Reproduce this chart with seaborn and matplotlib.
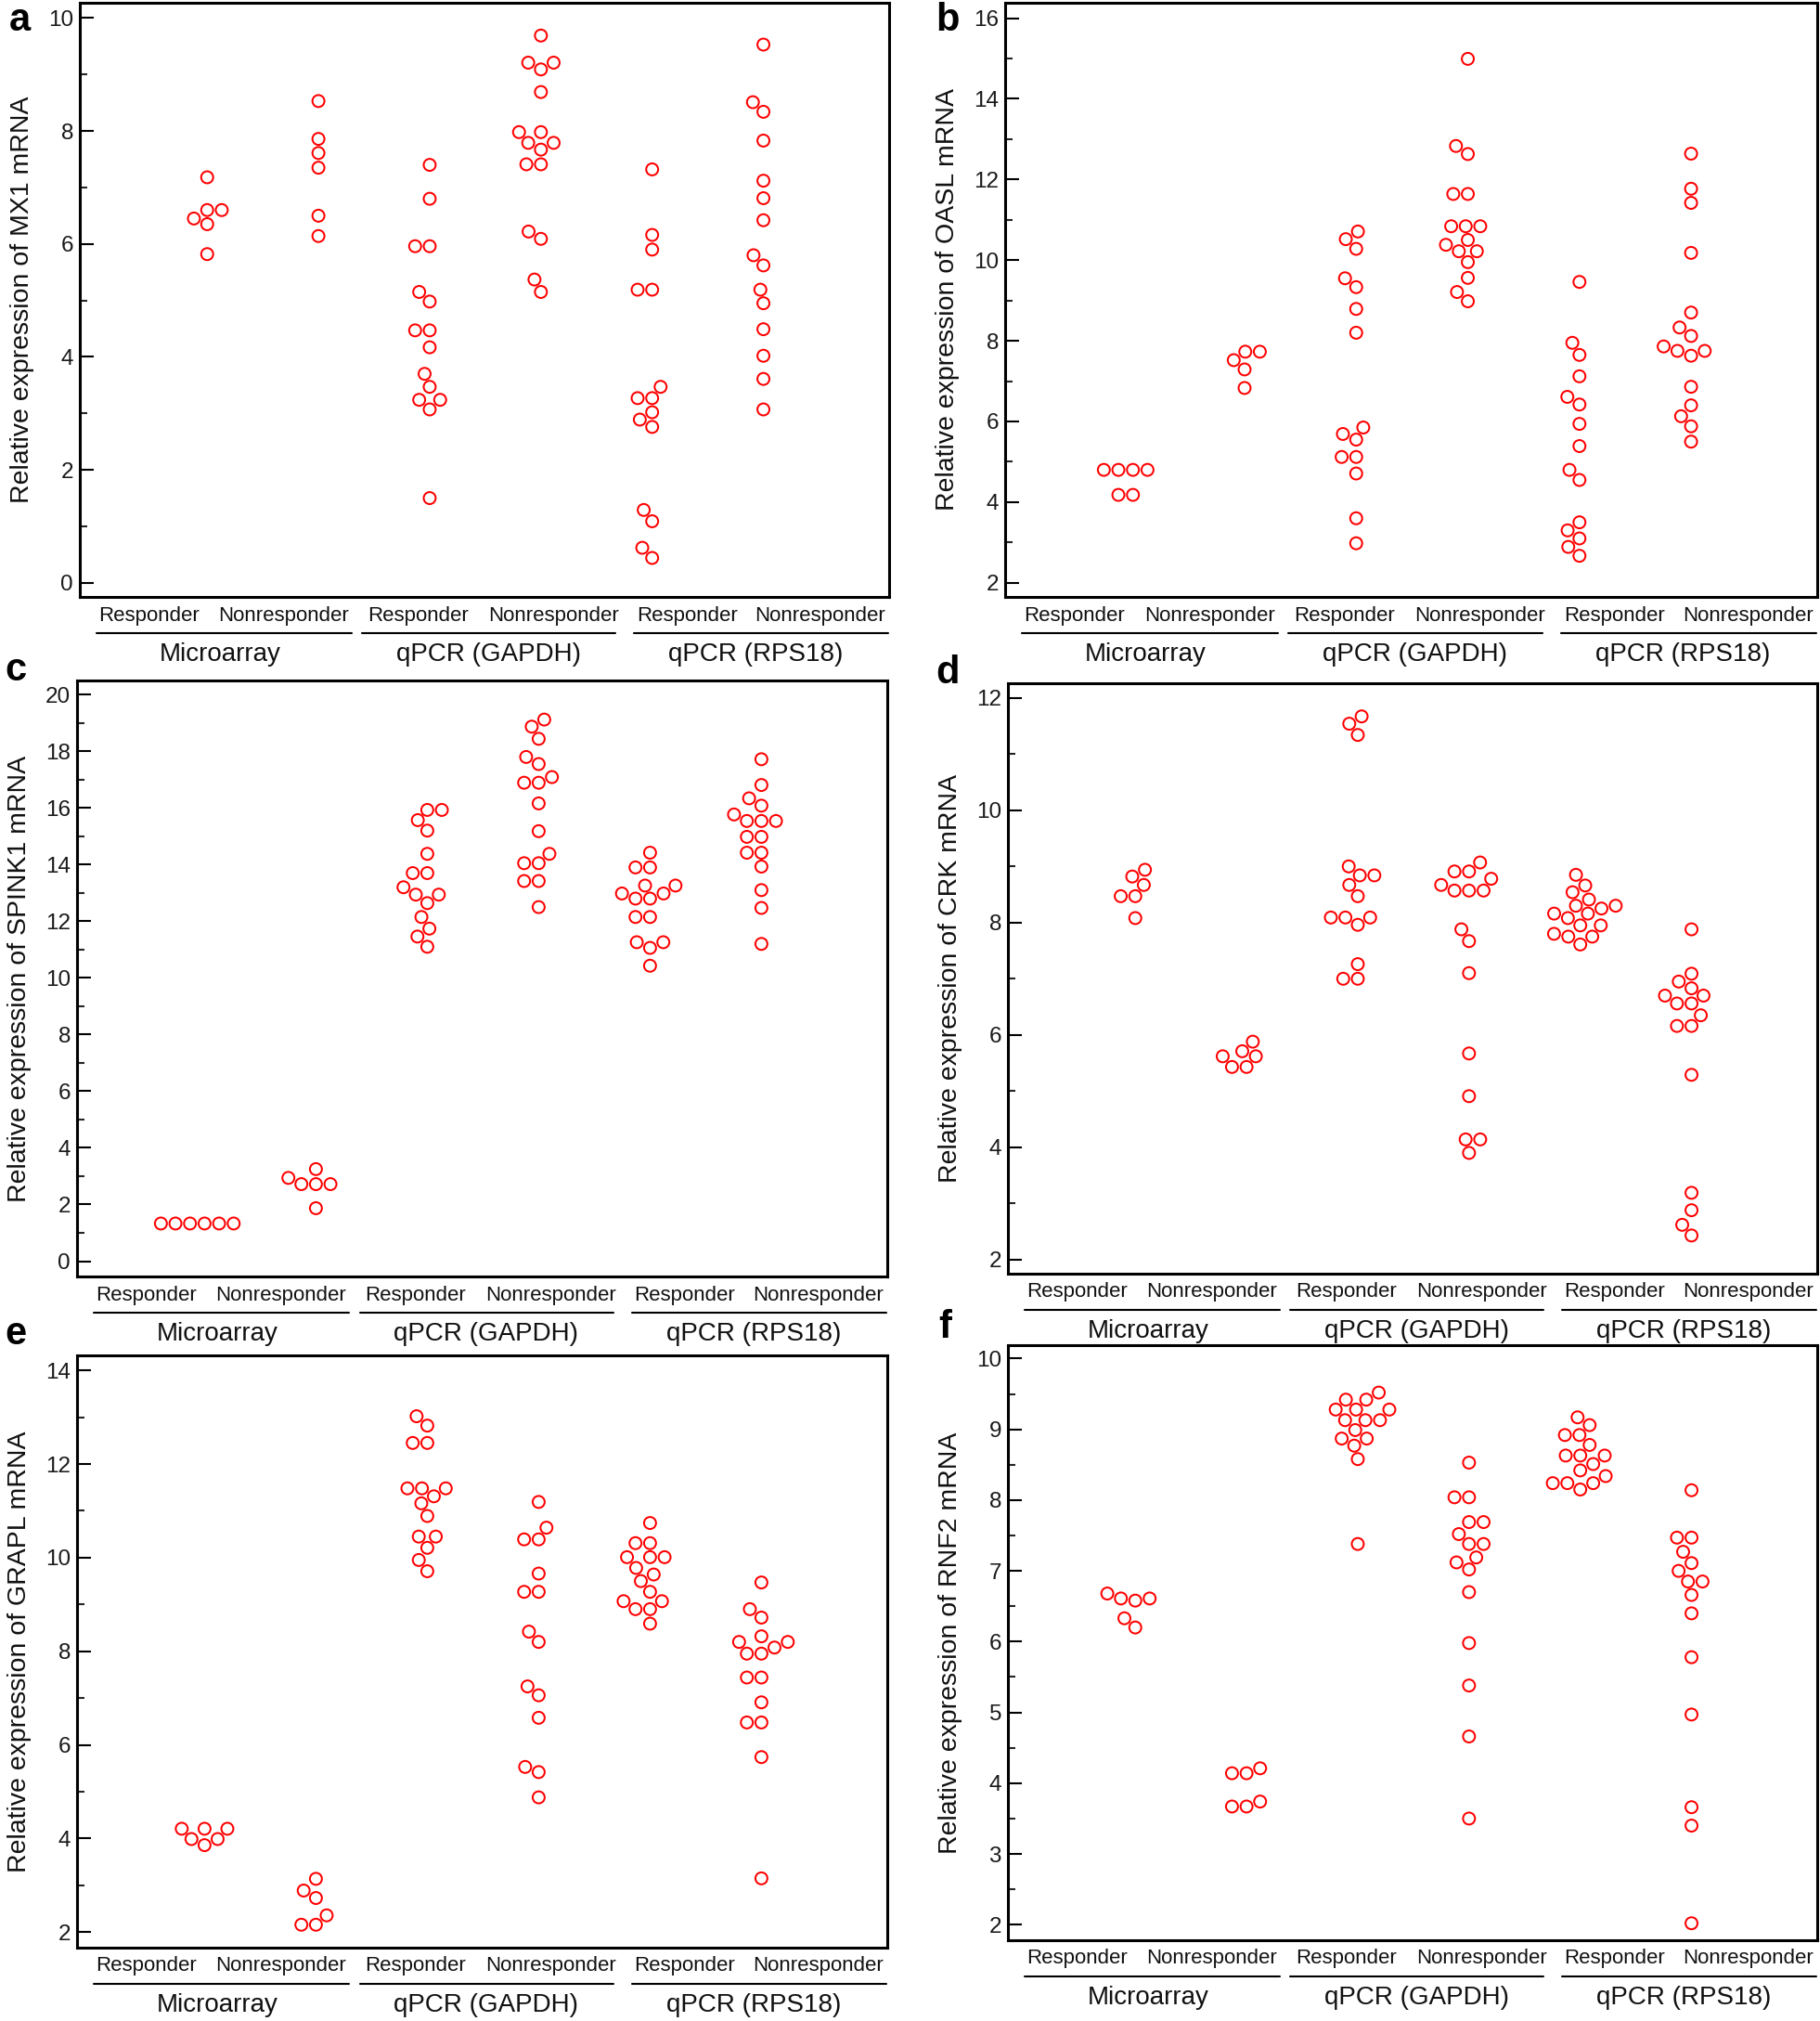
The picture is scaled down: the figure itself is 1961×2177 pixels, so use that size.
import numpy as np
import pandas as pd
import matplotlib
matplotlib.use("Agg")
import matplotlib.pyplot as plt
from matplotlib.lines import Line2D
from matplotlib.ticker import MultipleLocator
from matplotlib.transforms import ScaledTranslation
import seaborn as sns

# ---------------- data ----------------
group_keys = ["Micro_R", "Micro_N", "GAPDH_R", "GAPDH_N", "RPS18_R", "RPS18_N"]
cat_labels = ["Responder", "Nonresponder"] * 3
group_labels = ["Microarray", "qPCR (GAPDH)", "qPCR (RPS18)"]

mx1_micro_r = [7.18, 6.6, 6.6, 6.45, 6.35, 5.82]
mx1_micro_n = [8.53, 7.86, 7.61, 7.35, 6.5, 6.14]
mx1_gapdh_r = [7.4, 6.8, 5.96, 5.96, 5.15, 4.98, 4.47, 4.47, 4.17, 3.7, 3.47, 3.24, 3.24, 3.07, 1.5]
mx1_gapdh_n = [9.69, 9.21, 9.21, 9.09, 8.69, 7.98, 7.98, 7.79, 7.79, 7.67, 7.41, 7.41, 6.22, 6.09, 5.37, 5.15]
mx1_rps18_r = [7.32, 6.16, 5.9, 5.19, 5.19, 3.47, 3.27, 3.27, 3.02, 2.89, 2.76, 1.29, 1.09, 0.62, 0.44]
mx1_rps18_n = [9.53, 8.51, 8.34, 7.83, 7.12, 6.81, 6.42, 5.8, 5.62, 5.19, 4.95, 4.49, 4.02, 3.61, 3.07]

oasl_micro_r = [4.8, 4.8, 4.8, 4.8, 4.18, 4.18]
oasl_micro_n = [7.73, 7.73, 7.52, 7.29, 6.83]
oasl_gapdh_r = [10.71, 10.52, 10.28, 9.55, 9.33, 8.79, 8.2, 5.85, 5.69, 5.55, 5.12, 5.12, 4.71, 3.6, 2.98]
oasl_gapdh_n = [14.99, 12.83, 12.63, 11.64, 11.64, 10.84, 10.84, 10.84, 10.5, 10.38, 10.22, 10.22, 9.95, 9.56, 9.21, 8.98]
oasl_rps18_r = [9.46, 7.95, 7.65, 7.12, 6.61, 6.42, 5.94, 5.39, 4.8, 4.55, 3.5, 3.3, 3.1, 2.89, 2.67]
oasl_rps18_n = [12.64, 11.77, 11.42, 10.18, 8.7, 8.33, 8.12, 7.86, 7.75, 7.75, 7.63, 6.86, 6.4, 6.13, 5.88, 5.5]

spink1_micro_r = [1.33, 1.33, 1.33, 1.33, 1.33, 1.33]
spink1_micro_n = [3.25, 2.94, 2.72, 2.72, 2.72, 1.87]
spink1_gapdh_r = [15.93, 15.93, 15.57, 15.2, 14.38, 13.7, 13.7, 13.2, 12.94, 12.94, 12.64, 12.15, 11.74, 11.46, 11.1]
spink1_gapdh_n = [19.12, 18.87, 18.44, 17.8, 17.55, 17.09, 16.89, 16.89, 16.16, 15.18, 14.38, 14.05, 14.05, 13.42, 13.42, 12.5]
spink1_rps18_r = [14.42, 13.9, 13.9, 13.26, 13.26, 12.98, 12.98, 12.8, 12.8, 12.15, 12.15, 11.26, 11.26, 11.06, 10.43]
spink1_rps18_n = [17.72, 16.81, 16.34, 16.08, 15.77, 15.54, 15.54, 15.54, 14.98, 14.98, 14.42, 14.42, 13.93, 13.1, 12.47, 11.2]

crk_micro_r = [8.94, 8.82, 8.67, 8.47, 8.47, 8.08]
crk_micro_n = [5.88, 5.71, 5.62, 5.62, 5.43, 5.43]
crk_gapdh_r = [11.67, 11.54, 11.34, 9.0, 8.84, 8.84, 8.67, 8.47, 8.09, 8.09, 8.09, 7.96, 7.26, 7.0, 7.0]
crk_gapdh_n = [9.07, 8.91, 8.91, 8.78, 8.67, 8.57, 8.57, 8.57, 7.88, 7.67, 7.1, 5.67, 4.91, 4.14, 4.14, 3.9]
crk_rps18_r = [8.85, 8.66, 8.54, 8.41, 8.3, 8.3, 8.25, 8.16, 8.16, 8.08, 7.95, 7.95, 7.8, 7.75, 7.75, 7.61]
crk_rps18_n = [7.88, 7.09, 6.95, 6.83, 6.7, 6.7, 6.56, 6.56, 6.35, 6.16, 6.16, 5.29, 3.19, 2.88, 2.62, 2.43]

grapl_micro_r = [4.21, 4.21, 4.21, 3.99, 3.99, 3.86]
grapl_micro_n = [3.14, 2.89, 2.73, 2.36, 2.16, 2.16]
grapl_gapdh_r = [13.02, 12.82, 12.45, 12.45, 11.48, 11.48, 11.48, 11.31, 11.16, 10.89, 10.45, 10.45, 10.21, 9.95, 9.71]
grapl_gapdh_n = [11.19, 10.64, 10.39, 10.39, 9.66, 9.27, 9.27, 8.42, 8.2, 7.25, 7.06, 6.58, 5.53, 5.42, 4.88]
grapl_rps18_r = [10.74, 10.31, 10.31, 10.01, 10.01, 10.01, 9.78, 9.64, 9.5, 9.27, 9.07, 9.07, 8.9, 8.9, 8.59]
grapl_rps18_n = [9.47, 8.9, 8.72, 8.32, 8.2, 8.2, 8.08, 7.95, 7.95, 7.44, 7.44, 6.91, 6.48, 6.48, 5.74, 3.15]

rnf2_micro_r = [6.68, 6.61, 6.61, 6.58, 6.33, 6.2]
rnf2_micro_n = [4.21, 4.14, 4.14, 3.74, 3.67, 3.67]
rnf2_gapdh_r = [9.52, 9.42, 9.42, 9.28, 9.28, 9.28, 9.13, 9.13, 9.13, 8.99, 8.87, 8.87, 8.77, 8.58, 7.38]
rnf2_gapdh_n = [8.53, 8.04, 8.04, 7.69, 7.69, 7.52, 7.38, 7.38, 7.19, 7.12, 7.02, 6.7, 5.98, 5.38, 4.66, 3.5]
rnf2_rps18_r = [9.17, 9.06, 8.92, 8.92, 8.78, 8.63, 8.63, 8.63, 8.51, 8.42, 8.34, 8.24, 8.24, 8.24, 8.15]
rnf2_rps18_n = [8.14, 7.47, 7.47, 7.27, 7.11, 7.0, 6.85, 6.85, 6.66, 6.4, 5.78, 4.97, 3.66, 3.4, 2.02]

genes = ["MX1", "OASL", "SPINK1", "CRK", "GRAPL", "RNF2"]
panel_letters = ["a", "b", "c", "d", "e", "f"]
panel_data = [
    [mx1_micro_r, mx1_micro_n, mx1_gapdh_r, mx1_gapdh_n, mx1_rps18_r, mx1_rps18_n],
    [oasl_micro_r, oasl_micro_n, oasl_gapdh_r, oasl_gapdh_n, oasl_rps18_r, oasl_rps18_n],
    [spink1_micro_r, spink1_micro_n, spink1_gapdh_r, spink1_gapdh_n, spink1_rps18_r, spink1_rps18_n],
    [crk_micro_r, crk_micro_n, crk_gapdh_r, crk_gapdh_n, crk_rps18_r, crk_rps18_n],
    [grapl_micro_r, grapl_micro_n, grapl_gapdh_r, grapl_gapdh_n, grapl_rps18_r, grapl_rps18_n],
    [rnf2_micro_r, rnf2_micro_n, rnf2_gapdh_r, rnf2_gapdh_n, rnf2_rps18_r, rnf2_rps18_n],
]
y_limits = [(-0.25, 10.27), (1.65, 16.38), (-0.54, 20.5), (1.75, 12.26), (1.67, 14.32), (1.78, 10.19)]
y_major = [2, 2, 2, 2, 2, 1]
y_minor = [1, 1, 1, 1, 1, 0.5]
y_ticks_range = [(0, 10), (2, 16), (0, 20), (2, 12), (2, 14), (2, 10)]

# ---------------- style ----------------
sns.set_style("ticks")
plt.rcParams["font.family"] = ["Liberation Sans", "DejaVu Sans"]

W, H = 1961, 2177
DPI = 100
fig = plt.figure(figsize=(W / DPI, H / DPI), dpi=DPI)

# axes boxes in pixels: left, right, top, bottom
boxes = [
    (86, 958, 3, 643),
    (1083, 1958, 3, 643),
    (83, 956, 733, 1375),
    (1086, 1958, 736, 1372),
    (83, 956, 1460, 2098),
    (1086, 1958, 1449, 2090),
]
letter_pos = [(21, 22), (1021, 22), (17, 722), (1021, 725), (17, 1437), (1018, 1430)]

cat_x = [0.085, 0.252, 0.418, 0.585, 0.75, 0.915]
grp_x = [0.173, 0.505, 0.835]
line_spans = [(0.021, 0.336), (0.349, 0.662), (0.685, 0.999)]

for i in range(6):
    l, r, t, b = boxes[i]
    ax = fig.add_axes([l / W, 1 - b / H, (r - l) / W, (b - t) / H])
    vals = panel_data[i]
    df = pd.DataFrame({
        "group": np.repeat(group_keys, [len(v) for v in vals]),
        "value": np.concatenate([np.asarray(v, float) for v in vals]),
    })
    sns.swarmplot(data=df, x="group", y="value", order=group_keys, ax=ax,
                  size=9.3, color="red", linewidth=1.4, edgecolor="red",
                  warn_thresh=1.0)
    for coll in ax.collections:
        coll.set_facecolor("none")
        coll.set_edgecolor("#ff0000")
        coll.set_linewidth(1.45)

    ax.set_xlim(-1.145, 6.13)
    ax.set_ylim(*y_limits[i])
    lo, hi = y_ticks_range[i]
    ticks = np.arange(lo, hi + 0.001, y_major[i])
    ax.set_yticks(ticks)
    ax.yaxis.set_minor_locator(MultipleLocator(y_minor[i]))
    ax.set_yticklabels([("%g" % v) for v in ticks])
    ax.tick_params(axis="y", which="major", direction="in", length=11, width=1.5,
                   labelsize=17.5, pad=5, colors="black", labelcolor="#1a1a1a")
    ax.tick_params(axis="y", which="minor", direction="in", length=6, width=1.5)
    ax.set_xticks([])
    ax.set_xlabel("")
    ax.set_ylabel(f"Relative expression of {genes[i]} mRNA", fontsize=20.5, color="#111111")
    ax.yaxis.set_label_coords(-49 / (r - l), 0.5)
    for sp in ax.spines.values():
        sp.set_visible(True)
        sp.set_linewidth(2.2)
        sp.set_color("black")

    for j, lab in enumerate(cat_labels):
        ax.annotate(lab, xy=(cat_x[j], 0), xycoords="axes fraction",
                    xytext=(0, -20 * 0.72), textcoords="offset points",
                    ha="center", va="center", fontsize=16, color="#111111")
    for j, lab in enumerate(group_labels):
        ax.annotate(lab, xy=(grp_x[j], 0), xycoords="axes fraction",
                    xytext=(0, -62 * 0.72), textcoords="offset points",
                    ha="center", va="center", fontsize=20, color="#111111")
    trans = ax.transAxes + ScaledTranslation(0, -39 / DPI, fig.dpi_scale_trans)
    for x0, x1 in line_spans:
        fig.add_artist(Line2D([x0, x1], [0, 0], transform=trans, color="black",
                              lw=1.5, clip_on=False))

    lx, ly = letter_pos[i]
    fig.text(lx / W, 1 - ly / H, panel_letters[i], fontsize=30, fontweight="bold",
             ha="center", va="center", color="black")

fig.savefig("out.png", dpi=DPI)
